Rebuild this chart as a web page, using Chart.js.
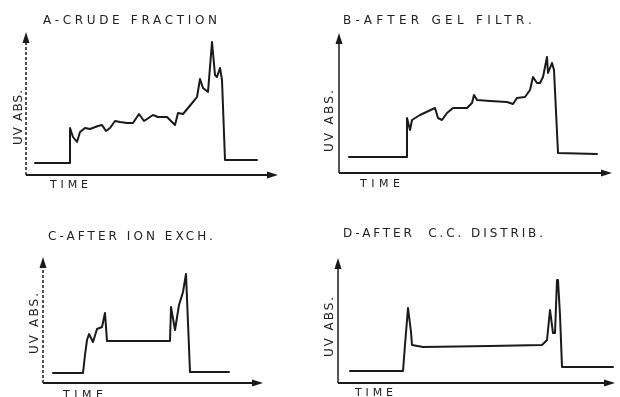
<!DOCTYPE html>
<html>
<head>
<meta charset="utf-8">
<script src="https://cdn.jsdelivr.net/npm/chart.js@4.4.1/dist/chart.umd.min.js"></script>
<style>
  html, body { margin: 0; padding: 0; background: #fff; }
  #wrap { position: relative; width: 620px; height: 397px; overflow: hidden; }
  #wrap canvas { position: absolute; left: 0; top: 0; }
</style>
</head>
<body>
<div id="wrap">
  <canvas id="cA" width="620" height="397"></canvas>
  <canvas id="cB" width="620" height="397"></canvas>
  <canvas id="cC" width="620" height="397"></canvas>
  <canvas id="cD" width="620" height="397"></canvas>
</div>
<script>
// ---- Data (arbitrary units: time vs UV absorbance) ----
const panelTitles = ["A-CRUDE FRACTION", "B-AFTER GEL FILTR.", "C-AFTER ION EXCH.", "D-AFTER  C.C. DISTRIB."];
const xAxisLabel = "TIME";
const yAxisLabel = "UV ABS.";

const crudeTime = [9, 44, 44, 47, 51, 54, 59, 64, 72, 76, 80, 84, 89, 94, 101, 107, 113, 118, 127, 132, 141, 149, 152, 157, 167, 171, 174, 177, 182, 186, 187, 189, 191, 194, 196, 199, 231];
const crudeAbs  = [12, 12, 47, 38, 33, 43, 47, 46, 49, 50, 44, 47, 54, 53, 52, 52, 61, 54, 60, 58, 58, 50, 62, 61, 73, 78, 96, 87, 83, 133, 122, 100, 98, 107, 95, 15, 15];

const gelTime = [10, 68, 68, 71, 73, 81, 96, 99, 103, 108, 114, 128, 133, 135, 138, 151, 168, 174, 178, 186, 191, 194, 198, 201, 204, 208, 209, 213, 215, 219, 258];
const gelAbs  = [16, 16, 55, 43, 53, 58, 65, 55, 53, 60, 65, 65, 70, 78, 73, 72, 71, 69, 75, 76, 83, 96, 90, 90, 96, 116, 100, 110, 103, 20, 19];

const ionTime = [10, 40, 42, 44, 46, 50, 54, 59, 62, 64, 127, 128, 132, 136, 140, 143, 147, 186];
const ionAbs  = [10, 10, 28, 43, 49, 41, 54, 56, 70, 42, 42, 76, 53, 78, 91, 109, 11, 11];

const ccdTime = [12, 65, 67, 70, 73, 74, 85, 152, 204, 209, 212, 215, 217, 219, 220, 222, 224, 275];
const ccdAbs  = [12, 12, 38, 75, 51, 38, 36, 37, 38, 43, 73, 50, 50, 103, 103, 68, 16, 16];

const xMax = [252, 273, 220, 277];
const yMax = [143, 140, 126, 125];

// ---- Layout (page pixels) ----
const areas = [
  { left: 26,  right: 278, top: 32,  bottom: 175 },
  { left: 339, right: 612, top: 33,  bottom: 173 },
  { left: 43,  right: 263, top: 257, bottom: 383 },
  { left: 338, right: 615, top: 258, bottom: 383 }
];
const titlePos = [
  { x: 43,  y: 24,  w: 174 },
  { x: 343, y: 24,  w: 189 },
  { x: 48,  y: 240, w: 165 },
  { x: 343, y: 237, w: 200 }
];
const timePos = [
  { x: 50,  y: 188, w: 38 },
  { x: 360, y: 187, w: 40 },
  { x: 63,  y: 398, w: 40 },
  { x: 355, y: 396, w: 38 }
];
const uvPos = [
  { x: 22,  y: 145, w: 55 },
  { x: 333, y: 152, w: 62 },
  { x: 38,  y: 354, w: 61 },
  { x: 333, y: 357, w: 60 }
];
const dashedY = [true, false, true, false];

const INK = "#1a1a1a";

function spacedText(ctx, text, x, y, width, font, rotate) {
  ctx.save();
  ctx.font = font;
  ctx.fillStyle = "#222";
  ctx.textBaseline = "alphabetic";
  ctx.textAlign = "left";
  ctx.letterSpacing = "0px";
  const w = ctx.measureText(text).width;
  const s = Math.max(0, (width - w) / (text.length - 1));
  ctx.letterSpacing = s.toFixed(2) + "px";
  ctx.translate(x, y);
  if (rotate) ctx.rotate(-Math.PI / 2);
  ctx.fillText(text, 0, 0);
  ctx.restore();
}

function makePanel(i, canvasId, times, abs) {
  const a = areas[i];
  const decor = {
    id: "decor" + i,
    afterDatasetsDraw(chart) {
      const ctx = chart.ctx;
      const ca = chart.chartArea;
      const x0 = chart.scales.x.getPixelForValue(0);
      const y0 = chart.scales.y.getPixelForValue(0);
      const xEnd = chart.scales.x.getPixelForValue(xMax[i]);
      const yEnd = chart.scales.y.getPixelForValue(yMax[i]);
      ctx.save();
      ctx.strokeStyle = INK;
      ctx.fillStyle = INK;
      // x axis
      ctx.lineWidth = 2;
      ctx.beginPath();
      ctx.moveTo(x0, y0);
      ctx.lineTo(xEnd - 8, y0);
      ctx.stroke();
      ctx.beginPath();
      ctx.moveTo(xEnd, y0);
      ctx.lineTo(xEnd - 11, y0 - 3.5);
      ctx.lineTo(xEnd - 11, y0 + 3.5);
      ctx.closePath();
      ctx.fill();
      // y axis
      ctx.lineWidth = 1.5;
      if (dashedY[i]) ctx.setLineDash([3, 2]);
      ctx.beginPath();
      ctx.moveTo(x0, y0);
      ctx.lineTo(x0, yEnd + 8);
      ctx.stroke();
      ctx.setLineDash([]);
      ctx.beginPath();
      ctx.moveTo(x0, yEnd);
      ctx.lineTo(x0 - 3.5, yEnd + 11);
      ctx.lineTo(x0 + 3.5, yEnd + 11);
      ctx.closePath();
      ctx.fill();
      ctx.restore();
      // texts
      spacedText(ctx, panelTitles[i], titlePos[i].x, titlePos[i].y, titlePos[i].w, "12px 'DejaVu Sans'", false);
      spacedText(ctx, xAxisLabel, timePos[i].x, timePos[i].y, timePos[i].w, "11px 'DejaVu Sans'", false);
      spacedText(ctx, yAxisLabel, uvPos[i].x, uvPos[i].y, uvPos[i].w, "12px 'DejaVu Sans'", true);
    }
  };
  return new Chart(document.getElementById(canvasId), {
    type: "scatter",
    data: {
      datasets: [{
        data: times.map((t, k) => ({ x: t, y: abs[k] })),
        showLine: true,
        borderColor: INK,
        backgroundColor: INK,
        borderWidth: 2,
        pointRadius: 0,
        tension: 0,
        borderJoinStyle: "round",
        borderCapStyle: "round"
      }]
    },
    options: {
      responsive: false,
      animation: false,
      devicePixelRatio: 1,
      layout: { padding: { left: a.left, right: 620 - a.right, top: a.top, bottom: 397 - a.bottom } },
      plugins: { legend: { display: false }, tooltip: { enabled: false }, title: { display: false } },
      scales: {
        x: { type: "linear", min: 0, max: xMax[i], display: false },
        y: { type: "linear", min: 0, max: yMax[i], display: false }
      }
    },
    plugins: [decor]
  });
}

makePanel(0, "cA", crudeTime, crudeAbs);
makePanel(1, "cB", gelTime, gelAbs);
makePanel(2, "cC", ionTime, ionAbs);
makePanel(3, "cD", ccdTime, ccdAbs);
</script>
</body>
</html>
